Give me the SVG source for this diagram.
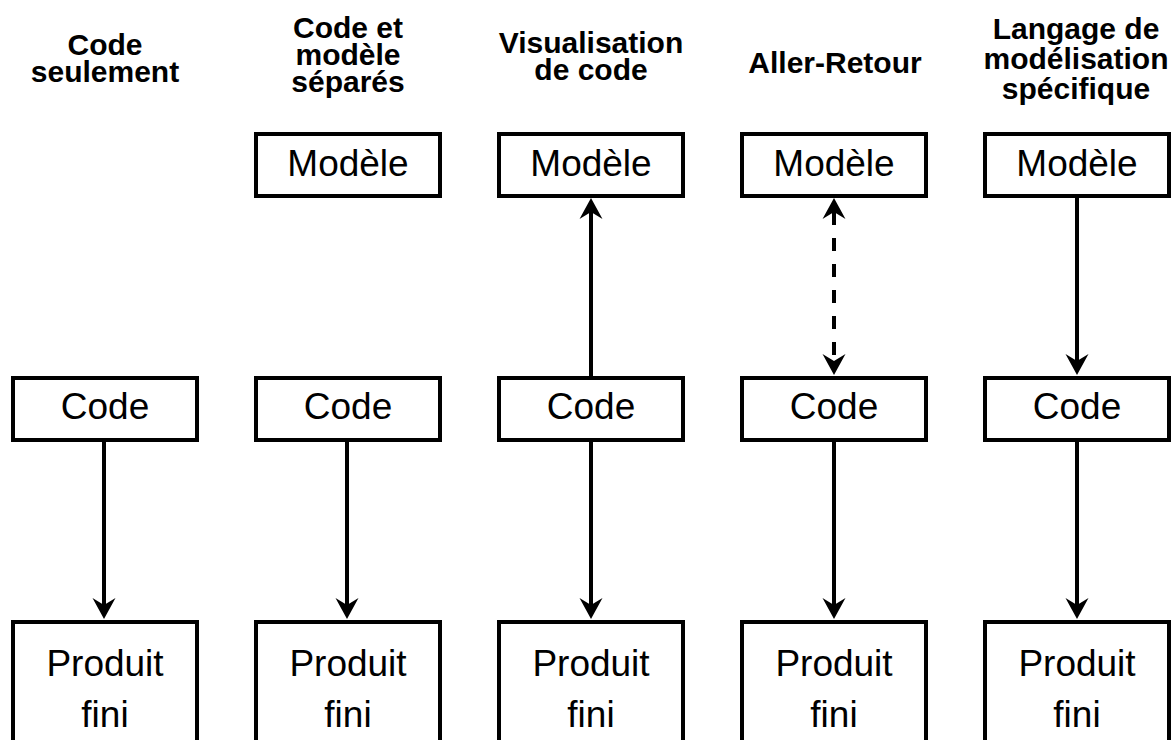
<svg xmlns="http://www.w3.org/2000/svg" width="1171" height="740" viewBox="0 0 1171 740">
  <style>
    .box { fill: #ffffff; stroke: #000000; stroke-width: 4; }
    .lbl { font-family: "Liberation Sans", Arial, sans-serif; font-size: 37px; fill: #000000; text-anchor: middle; }
    .hdr { font-family: "Liberation Sans", Arial, sans-serif; font-size: 30px; font-weight: bold; fill: #000000; text-anchor: middle; }
    .edge { fill: none; stroke: #000000; stroke-width: 4; stroke-linecap: butt; }
    .dash { stroke-dasharray: 13 13; }
  </style>
  <defs>
    <marker id="arr" markerUnits="userSpaceOnUse" viewBox="0 0 22 24" markerWidth="22" markerHeight="24" refX="7" refY="12" orient="auto-start-reverse">
      <path d="M0,0.5 L21,12 L0,23.5 L7,12 Z" fill="#000000"/>
    </marker>
  </defs>
  <rect width="1171" height="740" fill="#ffffff"/>

  <g id="headers">
    <text class="hdr" x="105" y="55">Code</text>
    <text class="hdr" x="105" y="82">seulement</text>
    <text class="hdr" x="348" y="38">Code et</text>
    <text class="hdr" x="348" y="65">modèle</text>
    <text class="hdr" x="348" y="92">séparés</text>
    <text class="hdr" x="591" y="53">Visualisation</text>
    <text class="hdr" x="591" y="80">de code</text>
    <text class="hdr" x="835" y="73">Aller-Retour</text>
    <text class="hdr" x="1076" y="39">Langage de</text>
    <text class="hdr" x="1076" y="69">modélisation</text>
    <text class="hdr" x="1076" y="99">spécifique</text>
  </g>

  <g id="connectors">
    <path class="edge" d="M104,440 L104,605" marker-end="url(#arr)"/>
    <path class="edge" d="M347,440 L347,605" marker-end="url(#arr)"/>
    <path class="edge" d="M591,378 L591,212" marker-end="url(#arr)"/>
    <path class="edge" d="M591,440 L591,605" marker-end="url(#arr)"/>
    <path class="edge dash" d="M834,212 L834,361" marker-start="url(#arr)" marker-end="url(#arr)"/>
    <path class="edge" d="M834,440 L834,605" marker-end="url(#arr)"/>
    <path class="edge" d="M1077,196 L1077,361" marker-end="url(#arr)"/>
    <path class="edge" d="M1077,440 L1077,605" marker-end="url(#arr)"/>
  </g>

  <g id="code1"><rect class="box" x="13" y="378" width="184" height="62"/><text class="lbl" x="105" y="419">Code</text></g>
  <g id="produit1"><rect class="box" x="13" y="622" width="184" height="130"/><text class="lbl" x="105" y="676">Produit</text><text class="lbl" x="105" y="727">fini</text></g>

  <g id="modele2"><rect class="box" x="256" y="134" width="184" height="62"/><text class="lbl" x="348" y="176">Modèle</text></g>
  <g id="code2"><rect class="box" x="256" y="378" width="184" height="62"/><text class="lbl" x="348" y="419">Code</text></g>
  <g id="produit2"><rect class="box" x="256" y="622" width="184" height="130"/><text class="lbl" x="348" y="676">Produit</text><text class="lbl" x="348" y="727">fini</text></g>

  <g id="modele3"><rect class="box" x="499" y="134" width="184" height="62"/><text class="lbl" x="591" y="176">Modèle</text></g>
  <g id="code3"><rect class="box" x="499" y="378" width="184" height="62"/><text class="lbl" x="591" y="419">Code</text></g>
  <g id="produit3"><rect class="box" x="499" y="622" width="184" height="130"/><text class="lbl" x="591" y="676">Produit</text><text class="lbl" x="591" y="727">fini</text></g>

  <g id="modele4"><rect class="box" x="742" y="134" width="184" height="62"/><text class="lbl" x="834" y="176">Modèle</text></g>
  <g id="code4"><rect class="box" x="742" y="378" width="184" height="62"/><text class="lbl" x="834" y="419">Code</text></g>
  <g id="produit4"><rect class="box" x="742" y="622" width="184" height="130"/><text class="lbl" x="834" y="676">Produit</text><text class="lbl" x="834" y="727">fini</text></g>

  <g id="modele5"><rect class="box" x="985" y="134" width="184" height="62"/><text class="lbl" x="1077" y="176">Modèle</text></g>
  <g id="code5"><rect class="box" x="985" y="378" width="184" height="62"/><text class="lbl" x="1077" y="419">Code</text></g>
  <g id="produit5"><rect class="box" x="985" y="622" width="184" height="130"/><text class="lbl" x="1077" y="676">Produit</text><text class="lbl" x="1077" y="727">fini</text></g>
</svg>
